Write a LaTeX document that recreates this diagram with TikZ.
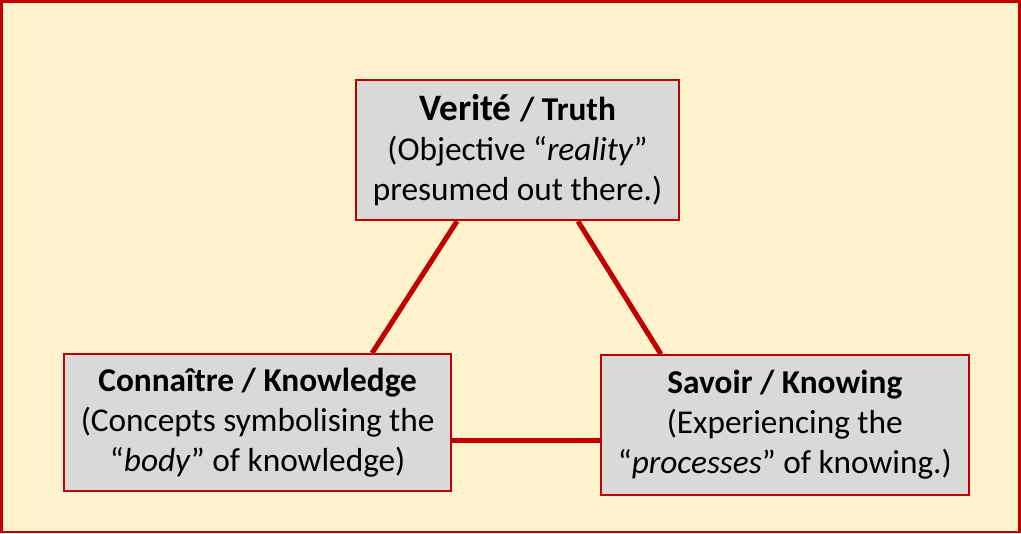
\documentclass[tikz,border=0pt]{standalone}
\usepackage{fontspec}
\setmainfont{Carlito}
\usetikzlibrary{positioning,calc}
\definecolor{bgyellow}{HTML}{FFF2CC}
\definecolor{boxgray}{HTML}{D9D9D9}
\definecolor{darkred}{HTML}{C00000}
\tikzset{conceptbox/.style={draw=darkred,line width=1.5pt,fill=boxgray,align=center,inner sep=0pt,font=\fontsize{25}{30}\selectfont},link/.style={draw=darkred,line width=3.8pt}}
\begin{document}
\begin{tikzpicture}[x=.75pt,y=-.75pt]
\filldraw[fill=bgyellow,draw=darkred,line width=2pt] (1,1) rectangle (1020,532);
\useasboundingbox (0,0) rectangle (1021,533);
\node[conceptbox,minimum width=242.25pt,minimum height=105pt] (truth) at (517.5,150)
  {{\bfseries\fontsize{28}{30}\selectfont Verité \fontsize{25}{30}\selectfont / Truth}\\(Objective “\textit{reality}”\\presumed out there.)};
\node[conceptbox,minimum width=290.25pt,minimum height=102.75pt] (knowledge) at (257.5,422.5)
  {\textbf{Connaître / Knowledge}\\(Concepts symbolising the\\“\textit{body}” of knowledge)};
\node[conceptbox,minimum width=276pt,minimum height=105pt] (knowing) at (785,425)
  {\textbf{Savoir / Knowing}\\(Experiencing the\\“\textit{processes}” of knowing.)};
% links between the three boxes
\draw[link] ($(truth.south west)+(102,0)$) -- ($(knowledge.north west)+(309,0)$);
\draw[link] ($(truth.south east)+(-102,0)$) -- ($(knowing.north west)+(61,0)$);
\coordinate (kmid) at ($(knowledge.north east)+(0,87)$);
\draw[link] (kmid) -- (knowing.west |- kmid);
\end{tikzpicture}
\end{document}
